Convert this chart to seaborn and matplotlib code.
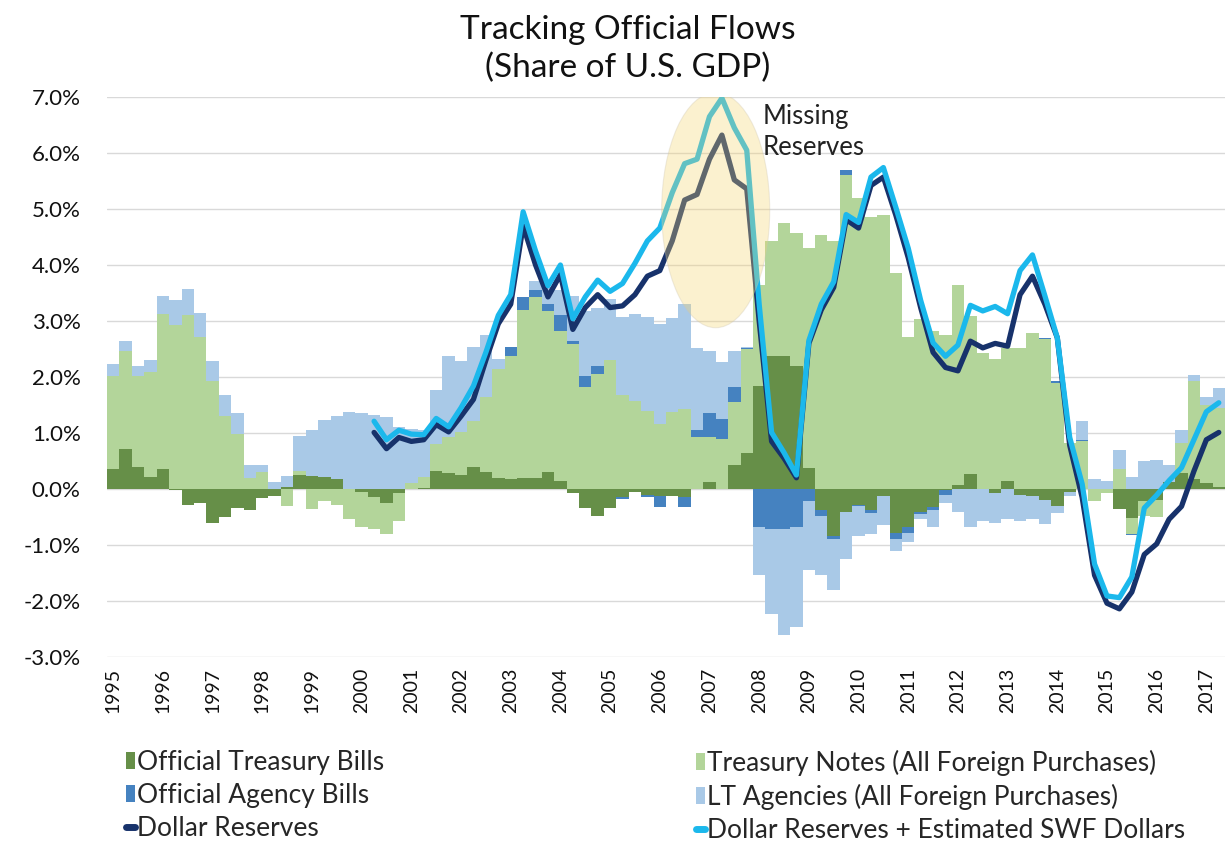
import numpy as np
import pandas as pd
import matplotlib
matplotlib.use("Agg")
import matplotlib.pyplot as plt
from matplotlib.patches import Ellipse, Patch
from matplotlib.lines import Line2D
import seaborn as sns

# quarterly, 1995Q1 .. 2017Q2
years = list(range(1995, 2018))

treasury_bills = [
    0.36, 0.72, 0.40, 0.22, 0.36, -0.02, -0.29, -0.25, -0.60, -0.50,
    -0.34, -0.38, -0.16, -0.13, 0.03, 0.25, 0.23, 0.22, 0.17, 0.00,
    -0.05, -0.15, -0.25, -0.07, 0.00, 0.02, 0.33, 0.29, 0.25, 0.40,
    0.31, 0.20, 0.17, 0.20, 0.20, 0.30, 0.14, -0.08, -0.34, -0.49,
    -0.34, -0.15, -0.05, -0.10, -0.12, -0.13, -0.15, 0.00, 0.13, 0.00,
    0.43, 0.65, 1.84, 2.37, 2.37, 2.19, 0.38, -0.38, -0.84, -0.41,
    -0.28, -0.38, -0.13, -0.78, -0.68, -0.41, -0.33, -0.02, 0.07, 0.27,
    0.00, -0.08, 0.14, -0.11, -0.12, -0.20, -0.30, -0.05, 0.00, 0.00,
    0.00, -0.36, -0.51, -0.21, -0.20, 0.13, 0.28, 0.17, 0.10, 0.03,
]
treasury_notes = [
    1.65, 1.75, 1.61, 1.87, 2.76, 2.92, 3.10, 2.71, 1.92, 1.31,
    0.98, 0.20, 0.31, 0.00, -0.31, 0.08, -0.36, -0.21, -0.28, -0.53,
    -0.63, -0.56, -0.56, -0.51, 0.11, 0.20, 0.47, 0.63, 0.76, 0.81,
    1.33, 1.94, 2.20, 3.00, 3.22, 2.88, 2.69, 2.59, 1.82, 2.05,
    2.31, 1.67, 1.57, 1.40, 1.16, 1.38, 1.42, 0.93, 0.80, 0.90,
    1.12, 1.85, 1.80, 2.05, 2.38, 2.39, 3.92, 4.53, 4.43, 5.61,
    5.20, 4.86, 4.89, 3.85, 2.71, 3.04, 2.82, 2.75, 3.58, 2.82,
    2.42, 2.32, 2.37, 2.51, 2.79, 2.67, 1.89, 0.82, 0.85, -0.22,
    -0.07, 0.35, -0.29, -0.28, -0.30, 0.00, 0.54, 1.75, 1.40, 1.42,
]
agency_bills = [
    0, 0, 0, 0, 0, 0, 0, 0, 0, 0,
    0, 0, 0, 0, 0, 0, 0, 0, 0, 0,
    0, 0, 0, 0, 0, 0, 0, 0, 0, 0,
    0, 0, 0.17, 0.23, 0.13, 0.12, 0.27, 0.05, 0.20, 0.15,
    0, -0.03, 0, -0.05, -0.20, 0, -0.18, 0.12, 0.42, 0.35,
    0.28, 0.02, -0.68, -0.71, -0.71, -0.68, -0.21, -0.10, -0.05, 0.08,
    -0.02, -0.04, 0, -0.11, -0.10, -0.03, -0.05, -0.08, 0, 0,
    0, 0, 0, 0, 0, 0.02, 0.03, 0, 0.02, 0,
    0, 0, -0.02, 0, 0, 0, 0, 0, 0, 0,
]
lt_agencies = [
    0.23, 0.17, 0.18, 0.22, 0.33, 0.45, 0.47, 0.44, 0.37, 0.37,
    0.37, 0.22, 0.11, 0.12, 0.20, 0.62, 0.83, 1.01, 1.14, 1.38,
    1.36, 1.33, 1.28, 1.10, 0.97, 0.83, 0.96, 1.45, 1.28, 1.32,
    1.11, 0.18, 0.00, 0.00, 0.17, 0.31, 0.45, 0.81, 1.16, 1.04,
    1.09, 1.41, 1.55, 1.68, 1.78, 1.67, 1.88, 1.46, 1.11, 1.02,
    0.64, 0.02, -0.86, -1.53, -1.90, -1.79, -1.23, -1.06, -0.91, -0.84,
    -0.54, -0.39, -0.51, -0.22, -0.16, -0.10, -0.30, -0.15, -0.41, -0.68,
    -0.58, -0.52, -0.54, -0.47, -0.42, -0.42, -0.12, -0.08, 0.34, 0.17,
    0.14, 0.35, 0.22, 0.50, 0.52, 0.29, 0.24, 0.12, 0.15, 0.36,
]

# lines start 2000Q2 (quarter index 21)
line_start = 21
dollar_reserves = [
    1.01, 0.72, 0.92, 0.85, 0.88, 1.15, 1.02, 1.30, 1.60,
    2.30, 2.95, 3.30, 4.70, 4.00, 3.43, 3.83, 2.85, 3.24, 3.47,
    3.24, 3.27, 3.47, 3.80, 3.90, 4.43, 5.16, 5.26, 5.89, 6.32,
    5.52, 5.36, 3.00, 0.85, 0.55, 0.20, 2.60, 3.20, 3.60, 4.81,
    4.66, 5.42, 5.57, 4.89, 4.13, 3.24, 2.44, 2.17, 2.11, 2.64,
    2.52, 2.60, 2.55, 3.47, 3.80, 3.30, 2.70, 0.78, -0.15, -1.54,
    -2.04, -2.14, -1.84, -1.17, -0.98, -0.54, -0.31, 0.32, 0.88, 1.01,
]
reserves_swf = [
    1.21, 0.88, 1.05, 0.98, 0.97, 1.26, 1.11, 1.45, 1.84,
    2.44, 3.10, 3.47, 4.95, 4.25, 3.63, 4.00, 3.04, 3.43, 3.73,
    3.53, 3.67, 4.03, 4.43, 4.66, 5.29, 5.81, 5.89, 6.65, 6.98,
    6.45, 6.05, 3.30, 1.01, 0.65, 0.25, 2.65, 3.30, 3.70, 4.90,
    4.76, 5.57, 5.74, 5.03, 4.30, 3.37, 2.61, 2.37, 2.57, 3.28,
    3.18, 3.26, 3.13, 3.90, 4.18, 3.45, 2.70, 0.92, 0.09, -1.34,
    -1.91, -1.94, -1.57, -0.34, -0.11, 0.15, 0.38, 0.88, 1.38, 1.54,
]

bar_names = ["Official Treasury Bills", "Treasury Notes (All Foreign Purchases)",
             "Official Agency Bills", "LT Agencies (All Foreign Purchases)"]
bar_colors = ["#668F48", "#B3D59A", "#4582C0", "#A9C9E7"]
line_names = ["Dollar Reserves", "Dollar Reserves + Estimated SWF Dollars"]
line_colors = ["#17326B", "#1BB8EC"]

sns.set_theme(style="white")
plt.rcParams['font.family'] = ['Lato', 'DejaVu Sans']

fig = plt.figure(figsize=(12.25, 8.42), dpi=100)
ax = fig.add_axes([107 / 1225, 1 - 657 / 842, 1 - 107 / 1225, 560 / 842])

x = np.arange(len(treasury_bills))
pos_bottom = np.zeros(len(x))
neg_bottom = np.zeros(len(x))
for vals, color in zip([treasury_bills, treasury_notes, agency_bills, lt_agencies], bar_colors):
    v = np.array(vals, dtype=float)
    pos = np.clip(v, 0, None)
    neg = np.clip(v, None, 0)
    ax.bar(x, pos, bottom=pos_bottom, width=1.0, color=color, linewidth=0, zorder=2)
    ax.bar(x, neg, bottom=neg_bottom, width=1.0, color=color, linewidth=0, zorder=2)
    pos_bottom += pos
    neg_bottom += neg

lines = pd.DataFrame({
    "q": np.arange(line_start, line_start + len(dollar_reserves)),
    "dr": dollar_reserves,
    "swf": reserves_swf,
})
sns.lineplot(data=lines, x="q", y="dr", ax=ax, color=line_colors[0], lw=3.8,
             zorder=3, solid_joinstyle="round", solid_capstyle="round")
sns.lineplot(data=lines, x="q", y="swf", ax=ax, color=line_colors[1], lw=3.8,
             zorder=4, solid_joinstyle="round", solid_capstyle="round")

# highlight around the 2007 gap
ax.add_patch(Ellipse((48.5, 4.98), width=8.7, height=4.2, facecolor="#F5D570",
                     alpha=0.33, edgecolor="#CFC7B0", lw=0.8, zorder=5))
ax.text(52.3, 6.38, "Missing\nReserves", ha="left", va="center", fontsize=18.5,
        linespacing=1.3, color="#222222", zorder=6)

ax.set_xlim(-0.5, len(x) - 0.5)
ax.set_ylim(-3, 7)
ax.set_yticks(np.arange(-3, 8, 1))
ax.set_yticklabels([f"{v:.1f}%" for v in np.arange(-3, 8, 1)])
ax.set_xticks(np.arange(0, len(x), 4))
ax.set_xticklabels([str(y) for y in years], rotation=90)
ax.set_xlabel("")
ax.set_ylabel("")
ax.grid(axis="y", color="#D9D9D9", lw=1.0)
ax.set_axisbelow(True)
for s in ax.spines.values():
    s.set_visible(False)
ax.tick_params(axis="y", labelsize=16, length=0, pad=19, labelcolor="#111111")
ax.tick_params(axis="x", labelsize=14, length=0, pad=8, labelcolor="#111111")

fig.text(628 / 1225, 1 - 49 / 842, "Tracking Official Flows\n(Share of U.S. GDP)",
         ha="center", va="center", fontsize=24, linespacing=1.32, color="#111111")

def patch(c):
    return Patch(facecolor=c, edgecolor="none")

def line(c):
    return Line2D([0], [0], color=c, lw=5)

leg_kw = dict(loc="upper left", frameon=False, fontsize=19, handlelength=0.33,
              handleheight=0.63, handletextpad=0.08, labelspacing=0.3, borderpad=0,
              borderaxespad=0)
fig.legend([patch(bar_colors[0]), patch(bar_colors[2]), line(line_colors[0])],
           [bar_names[0], bar_names[2], line_names[0]],
           bbox_to_anchor=(126 / 1225, 1 - 750 / 842), **leg_kw)
fig.legend([patch(bar_colors[1]), patch(bar_colors[3]), line(line_colors[1])],
           [bar_names[1], bar_names[3], line_names[1]],
           bbox_to_anchor=(696 / 1225, 1 - 750 / 842), **leg_kw)

fig.savefig("out.png", dpi=100)
